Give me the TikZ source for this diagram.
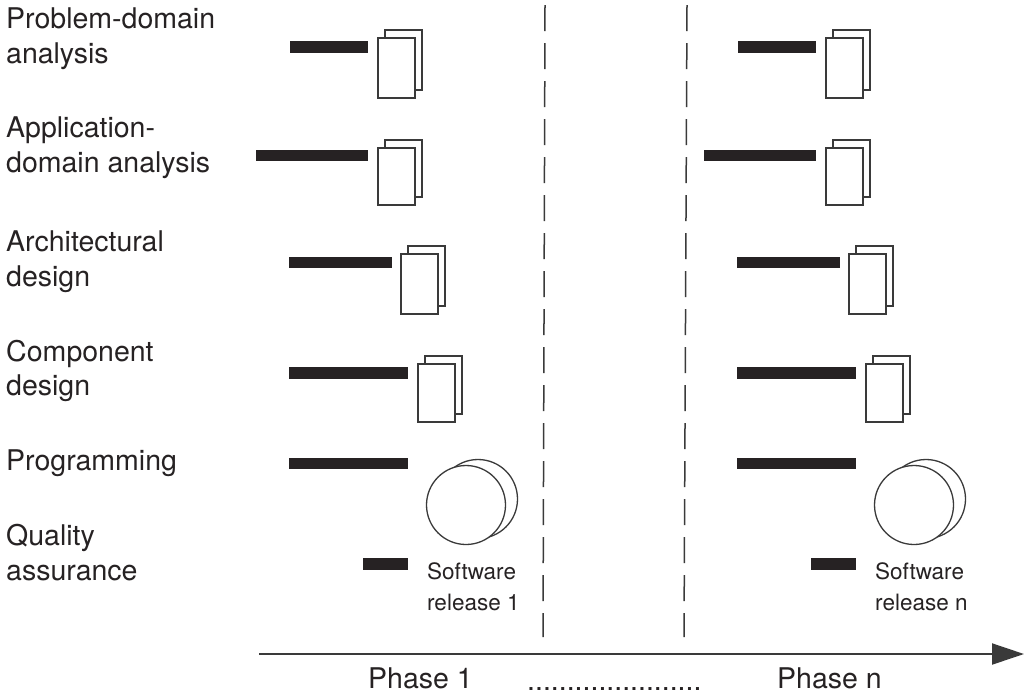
\documentclass[tikz,border=0pt]{standalone}
\usepackage{fontspec}
\setmainfont{TeX Gyre Heros}
\usetikzlibrary{arrows.meta}
\definecolor{ink}{HTML}{262223}
\definecolor{linec}{HTML}{3A3A3A}
\begin{document}
\begin{tikzpicture}[x=1pt,y=-1pt,
  lbl/.style={inner sep=0pt, anchor=base west, font=\fontsize{28.5}{35}\selectfont, text=ink},
  rel/.style={inner sep=0pt, anchor=base west, font=\fontsize{22.5}{30}\selectfont, text=ink},
  bar/.style={fill=ink},
  docline/.style={draw=linec, line width=1.3pt, fill=white},
  phaseline/.style={draw=linec, line width=1.5pt, dash pattern=on 26pt off 12pt},
  axis/.style={draw=linec, line width=2pt, -{Triangle[length=32pt,width=21pt]}}]
\useasboundingbox[fill=white] (0,0) rectangle (1027,697);

% activity labels
\node[lbl] (l1a) at (6,28)  {Problem-domain};
\node[lbl] (l1b) at (6,63)  {analysis};
\node[lbl] (l2a) at (6,137) {Application-};
\node[lbl] (l2b) at (6,172) {domain analysis};
\node[lbl] (l3a) at (6,251) {Architectural};
\node[lbl] (l3b) at (6,286) {design};
\node[lbl] (l4a) at (6,361) {Component};
\node[lbl] (l4b) at (6,395) {design};
\node[lbl] (l5a) at (6,470) {Programming};
\node[lbl] (l6a) at (6,545) {Quality};
\node[lbl] (l6b) at (6,580) {assurance};

% phase separators
\coordinate (d1t) at (545,5);  \coordinate (d1b) at (543,637);
\coordinate (d2t) at (687,5);  \coordinate (d2b) at (684,637);
\draw[phaseline] (d1t) -- (d1b);
\draw[phaseline] (d2t) -- (d2b);

% the two phases
\foreach \dx/\s/\r in {0/a/1, 448/b/n}{
  \begin{scope}[xshift=\dx pt]
    % activity bars
    \fill[bar] (290,41) rectangle (368,53);
    \fill[bar] (256,150) rectangle (368,161);
    \fill[bar] (289,257) rectangle (392,268);
    \fill[bar] (289,367) rectangle (408,379);
    \fill[bar] (289,458) rectangle (408,469);
    \fill[bar] (363,558) rectangle (408,570);
    % documents
    \foreach \x/\y/\h in {378/38/60, 378/148/57, 401/254/60, 418/364/58}{
      \draw[docline] (\x+7,\y-8) rectangle ++(37,\h);
      \draw[docline] (\x,\y) rectangle ++(37,\h);
    }
    % program disks
    \draw[docline] (478,499) circle[radius=39.5];
    \draw[docline] (466,505) circle[radius=39.5];
    % release label
    \node[rel] (sw\s) at (427,579) {Software};
    \node[rel] (rl\s) at (427,610) {release \r};
  \end{scope}
}

% time axis
\coordinate (axS) at (259,654);
\coordinate (axE) at (1024,654);
\draw[axis] (axS) -- (axE);

\node[lbl] (ph1) at (368,688) {Phase 1};
\node[lbl] (dots) at (527,690) {......................};
\node[lbl] (phn) at (777,688) {Phase n};
\end{tikzpicture}
\end{document}
